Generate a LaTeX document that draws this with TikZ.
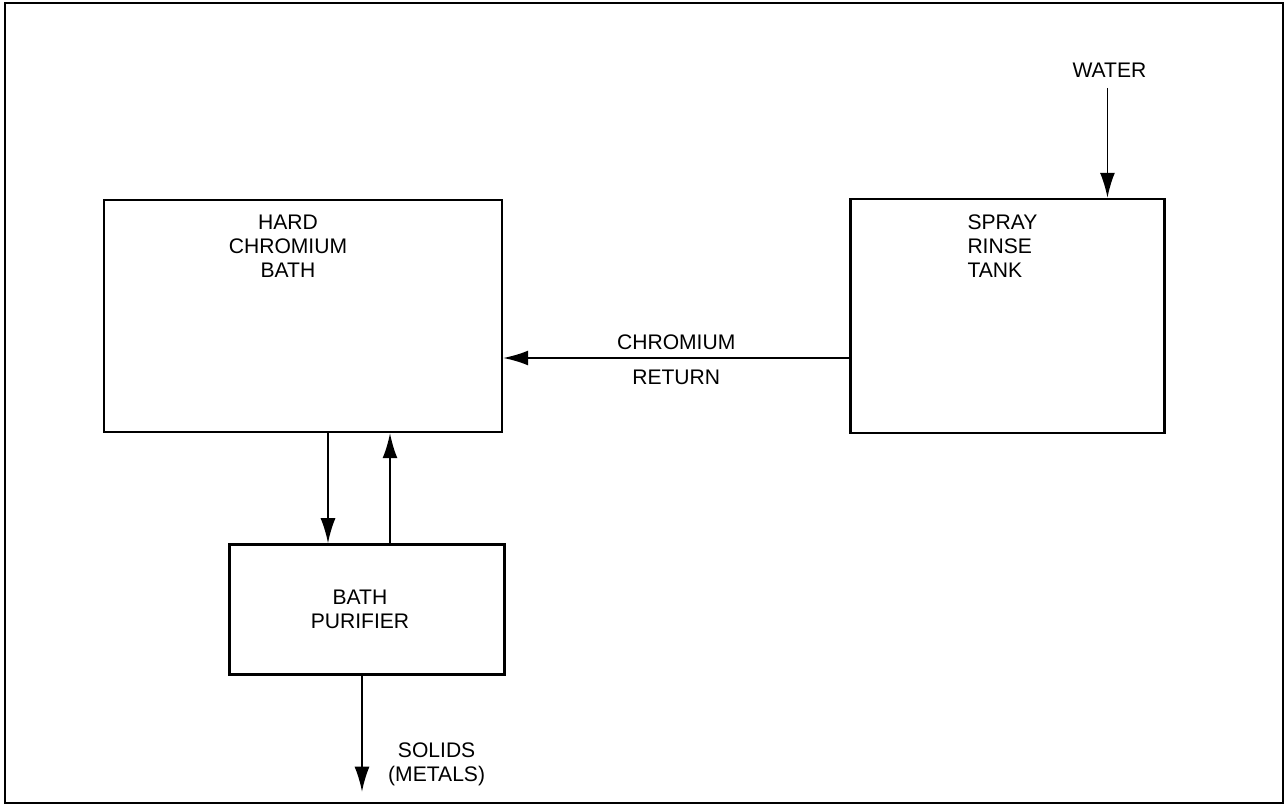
\documentclass[tikz,border=0pt]{standalone}
\usepackage{fontspec}
\setmainfont{Liberation Sans}
\usepackage{tikz}
\usetikzlibrary{shapes,arrows,positioning,calc,arrows.meta}

\begin{document}
\begin{tikzpicture}[
      box/.style={rectangle,draw,line width=1.4pt,inner sep=0pt},
      lbl/.style={align=center,font=\fontsize{12}{13.6}\selectfont},
      arrow/.style={-{Latex[length=5mm,width=3mm]},line width=1pt}
      ]

      \useasboundingbox (0,0) rectangle (25.74,16.16);
      \draw[line width=1.4pt] (0.1,0.1) rectangle (25.66,16.1);

      \node[box,minimum width=7.96cm,minimum height=4.64cm] at (6.06,9.84) (bath) {};
      \node[box,right=6.92cm of bath,minimum width=6.28cm,minimum height=4.68cm] (tank) {};
      \node[box,below=2.2cm of bath,xshift=1.28cm,minimum width=5.5cm,minimum height=2.6cm] (purifier) {};

      \node[lbl] at ([xshift=-0.3cm,yshift=1.4cm]bath.center) (bathtext) {HARD\\CHROMIUM\\BATH};

      \node[lbl,align=left] at ([xshift=-0.1cm,yshift=1.4cm]tank.center) (tanktext) {SPRAY\\RINSE\\TANK};

      \node[lbl] at ([xshift=-0.14cm]purifier.center) (purifiertext) {BATH\\PURIFIER};

      % water feed
      \node[lbl] at ([xshift=2.04cm,yshift=2.56cm]tank.north) (water) {WATER};
      \draw[arrow] ([xshift=2cm,yshift=2.2cm]tank.north) -- ([xshift=2cm]tank.north);

      % chromium return
      \draw[arrow] ([yshift=-0.84cm]tank.west) -- ([yshift=-0.84cm]tank.west -| bath.east)
        node[lbl,pos=0.5,above=1pt] {CHROMIUM}
        node[lbl,pos=0.5,below=3pt] {RETURN};

      % bath <-> purifier
      \draw[arrow] ([xshift=0.5cm]bath.south) -- ([xshift=0.5cm]bath.south |- purifier.north);
      \draw[arrow] ([xshift=1.74cm]bath.south |- purifier.north) -- ([xshift=1.74cm]bath.south);

      % solids out
      \coordinate (solids) at ([xshift=-0.1cm,yshift=-2.32cm]purifier.south);
      \draw[arrow] ([xshift=-0.1cm]purifier.south) -- (solids);
      \node[lbl,anchor=west] at ([xshift=0.4cm,yshift=0.55cm]solids) (solidstext) {SOLIDS\\(METALS)};

    \end{tikzpicture}
\end{document}
